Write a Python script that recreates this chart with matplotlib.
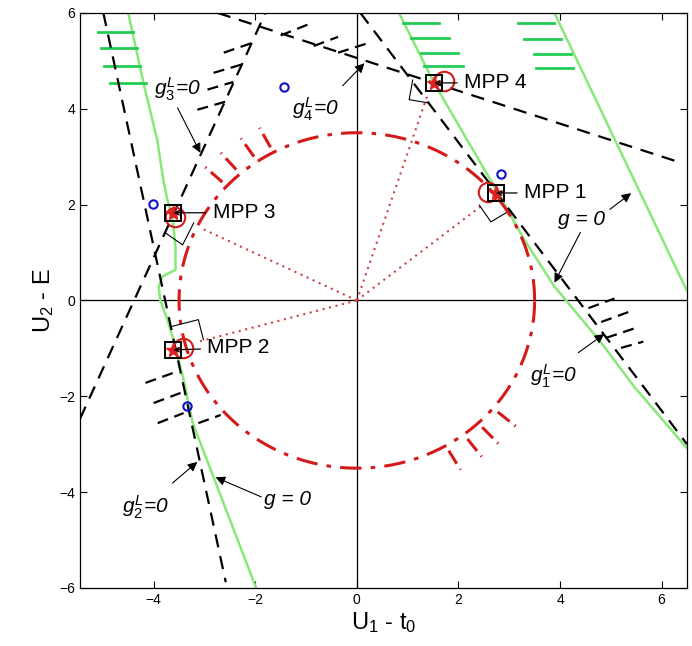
import numpy as np
import matplotlib
matplotlib.use("Agg")
import matplotlib.pyplot as plt

plt.rcParams['font.family'] = ['Liberation Sans', 'DejaVu Sans']
plt.rcParams['mathtext.fontset'] = 'custom'
plt.rcParams['mathtext.it'] = 'Liberation Sans:italic'
plt.rcParams['mathtext.rm'] = 'Liberation Sans'

# ---------------- data ----------------
beta_radius = 3.5

# nonlinear limit states g = 0 (green)
g_left_x = [-4.5, -4.2, -3.93, -3.81, -3.73, -3.63, -3.57, -3.57, -3.83, -3.9, -3.87, -3.73, -3.61, -3.51, -3.41, -3.23, -2.82, -1.99]
g_left_y = [6.0, 4.54, 3.35, 2.52, 2.1, 1.75, 1.12, 0.64, 0.5, 0.29, 0.01, -0.4, -0.82, -1.24, -1.66, -2.56, -3.69, -5.98]
g_mid_x = [0.83, 1.52, 2.78, 3.3, 3.89, 4.16, 4.81, 5.46, 6.53]
g_mid_y = [6.0, 4.54, 2.24, 1.26, 0.29, -0.05, -0.88, -1.8, -3.12]
g_right_x = [3.89, 6.49]
g_right_y = [6.0, 0.22]

# green hatch lines (y, x-start, x-end)
gh_left_y = [5.61, 5.26, 4.90, 4.53]
gh_left_x0 = [-5.1, -5.04, -4.98, -4.86]
gh_left_x1 = [-4.4, -4.33, -4.27, -4.16]
gh_mid_y = [5.78, 5.48, 5.17, 4.90]
gh_mid_x0 = [0.91, 1.07, 1.26, 1.32]
gh_mid_x1 = [1.62, 1.81, 1.99, 2.09]
gh_right_y = [5.78, 5.46, 5.15, 4.86]
gh_right_x0 = [3.18, 3.30, 3.49, 3.53]
gh_right_x1 = [3.89, 4.02, 4.22, 4.26]

# linearised limit states g_i^L = 0 (black dashed), two points each
gL1_x = [0.07, 6.5]; gL1_y = [6.0, -3.0]
gL2_x = [-4.99, -2.58]; gL2_y = [6.0, -5.88]
gL3_x = [-5.45, -1.8]; gL3_y = [-2.47, 6.0]
gL4_x = [-2.74, 6.39]; gL4_y = [6.0, 2.87]

# black dashed hatch segments (x0, y0, x1, y1)
hatch_g1 = [(4.56, -0.16, 5.07, 0.04), (4.81, -0.45, 5.35, -0.24),
            (4.91, -0.78, 5.50, -0.57), (5.20, -0.99, 5.64, -0.86)]
hatch_g2 = [(-4.16, -1.72, -3.61, -1.51), (-4.00, -2.14, -3.47, -1.93),
            (-3.92, -2.56, -3.41, -2.35), (-3.12, -2.56, -2.68, -2.39)]
hatch_g3 = [(-2.62, 5.17, -1.99, 5.40), (-2.82, 4.75, -2.15, 4.96),
            (-2.94, 4.40, -2.43, 4.56), (-3.14, 3.98, -2.58, 4.15)]
hatch_g4 = [(-1.50, 5.53, -0.91, 5.78), (-0.85, 5.31, -0.37, 5.50),
            (-0.37, 5.17, 0.25, 5.38)]

# red hatch marks on beta circle (angles in degrees)
circ_hatch_ul = [118, 124, 131, 137]
circ_hatch_lr = [-60, -53, -47, -40]

# MPP points
mpp_names = ['MPP 1', 'MPP 2', 'MPP 3', 'MPP 4']
mpp_x = [2.74, -3.61, -3.61, 1.52]
mpp_y = [2.24, -1.03, 1.83, 4.54]
mpp_circ_x = [2.58, -3.43, -3.57, 1.72]
mpp_circ_y = [2.27, -0.99, 1.75, 4.57]
mpp_label_x = [3.29, -2.94, -2.84, 2.11]
mpp_label_y = [2.25, -0.99, 1.83, 4.54]

# red dotted rays from origin
ray_x = [2.45, -3.15, -3.05, 1.38]
ray_y = [1.97, -0.87, 1.50, 4.25]

# right-angle symbols (polylines)
rangle_x = [[2.41, 2.64, 2.94], [-3.67, -3.12, -3.02], [-3.77, -3.43, -3.21], [1.10, 1.03, 1.42]]
rangle_y = [[1.99, 1.64, 1.83], [-0.55, -0.40, -0.82], [1.41, 1.16, 1.62], [4.60, 4.19, 4.12]]

# blue sample points
blue_x = [2.84, -1.44, -4.02, -3.35]
blue_y = [2.64, 4.46, 2.01, -2.20]

x_ticks = [-4, -2, 0, 2, 4, 6]
y_ticks = [-6, -4, -2, 0, 2, 4, 6]

# ---------------- drawing ----------------
fig = plt.figure(figsize=(6.92, 6.46), dpi=100)
ax = fig.add_axes([0.1156, 0.0898, 0.8772, 0.8902])
ax.set_xlim(-5.45, 6.5)
ax.set_ylim(-6, 6)

ax.axhline(0, color='k', lw=0.9)
ax.axvline(0, color='k', lw=0.9)

green = '#88e878'
hgreen = '#22cc55'
ax.plot(g_left_x, g_left_y, color=green, lw=1.8)
ax.plot(g_mid_x, g_mid_y, color=green, lw=1.8)
ax.plot(g_right_x, g_right_y, color=green, lw=1.8)
for ys, x0s, x1s in [(gh_left_y, gh_left_x0, gh_left_x1),
                     (gh_mid_y, gh_mid_x0, gh_mid_x1),
                     (gh_right_y, gh_right_x0, gh_right_x1)]:
    for y, a, b in zip(ys, x0s, x1s):
        ax.plot([a, b], [y, y], color=hgreen, lw=2)

# beta circle
th = np.linspace(0, 2 * np.pi, 400)
ax.plot(beta_radius * np.cos(th), beta_radius * np.sin(th), color='#d41a1a',
        lw=2.2, ls=(0, (7, 3, 1.5, 3)))
for ang in circ_hatch_ul + circ_hatch_lr:
    a = np.deg2rad(ang)
    ax.plot([3.62 * np.cos(a), 4.08 * np.cos(a)], [3.62 * np.sin(a), 4.08 * np.sin(a)],
            color='#d41a1a', lw=2.2, ls=(0, (5, 2, 1.5, 2)))

# dotted rays
for x, y in zip(ray_x, ray_y):
    ax.plot([0, x], [0, y], color='#d04040', lw=1.5, ls=(0, (1, 2.2)))

# linear limit states
for xs, ys in [(gL1_x, gL1_y), (gL2_x, gL2_y), (gL3_x, gL3_y), (gL4_x, gL4_y)]:
    ax.plot(xs, ys, color='k', lw=1.6, ls=(0, (6, 4)))
for segs in [hatch_g1, hatch_g2, hatch_g3, hatch_g4]:
    for x0, y0, x1, y1 in segs:
        ax.plot([x0, x1], [y0, y1], color='k', lw=1.6, ls=(0, (5, 3)))

# right angle symbols
for xs, ys in zip(rangle_x, rangle_y):
    ax.plot(xs, ys, color='k', lw=0.8)

# blue points
ax.plot(blue_x, blue_y, 'o', mfc='none', mec='#1010cc', mew=1.5, ms=6, ls='none')

# MPP markers
ax.plot(mpp_circ_x, mpp_circ_y, 'o', mfc='none', mec='#d41a1a', mew=1.5, ms=14, ls='none')
ax.plot(mpp_x, mpp_y, '*', color='#e02020', ms=10, ls='none')
ax.plot(mpp_x, mpp_y, 's', mfc='none', mec='k', mew=1.4, ms=11, ls='none')
for name, lx, ly, mx, my in zip(mpp_names, mpp_label_x, mpp_label_y, mpp_x, mpp_y):
    ax.annotate(name, xy=(mx, my), xytext=(lx, ly), fontsize=15, va='center', ha='left',
                arrowprops=dict(arrowstyle='->', color='k', lw=0.9, shrinkA=3, shrinkB=0,
                                mutation_scale=8))

# annotation labels
arr = dict(arrowstyle='-|>', color='k', lw=0.8, mutation_scale=14, shrinkA=0, shrinkB=0)
txt_kw = dict(fontsize=15, ha='center', va='center')
ax.text(-3.53, 4.40, r'$g^{L}_{3}$' + '=0', style='italic', **txt_kw)
ax.annotate('', xy=(-3.08, 3.08), xytext=(-3.53, 4.02), arrowprops=arr)
ax.text(-0.81, 3.98, r'$g^{L}_{4}$' + '=0', style='italic', **txt_kw)
ax.annotate('', xy=(0.15, 4.95), xytext=(-0.28, 4.48), arrowprops=arr)
ax.text(4.42, 1.68, 'g = 0', style='italic', **txt_kw)
ax.annotate('', xy=(5.40, 2.24), xytext=(4.98, 1.90), arrowprops=arr)
ax.annotate('', xy=(3.89, 0.37), xytext=(4.40, 1.42), arrowprops=arr)
ax.text(-4.16, -4.31, r'$g^{L}_{2}$' + '=0', style='italic', **txt_kw)
ax.annotate('', xy=(-3.14, -3.37), xytext=(-3.63, -3.81), arrowprops=arr)
ax.text(-1.36, -4.16, 'g = 0', style='italic', **txt_kw)
ax.annotate('', xy=(-2.78, -3.69), xytext=(-1.88, -4.10), arrowprops=arr)
ax.text(3.87, -1.59, r'$g^{L}_{1}$' + '=0', style='italic', **txt_kw)
ax.annotate('', xy=(4.87, -0.70), xytext=(4.36, -1.09), arrowprops=arr)

# axes styling (MATLAB look)
ax.set_xticks(x_ticks)
ax.set_yticks(y_ticks)
ax.tick_params(direction='in', top=True, right=True, length=5, labelsize=10, width=0.8)
for s in ax.spines.values():
    s.set_linewidth(0.9)
ax.set_xlabel(r'U$_1$ - t$_0$', fontsize=17, labelpad=2)
ax.set_ylabel(r'U$_2$ - E', fontsize=17, labelpad=2)

fig.savefig('out.png', dpi=100)
